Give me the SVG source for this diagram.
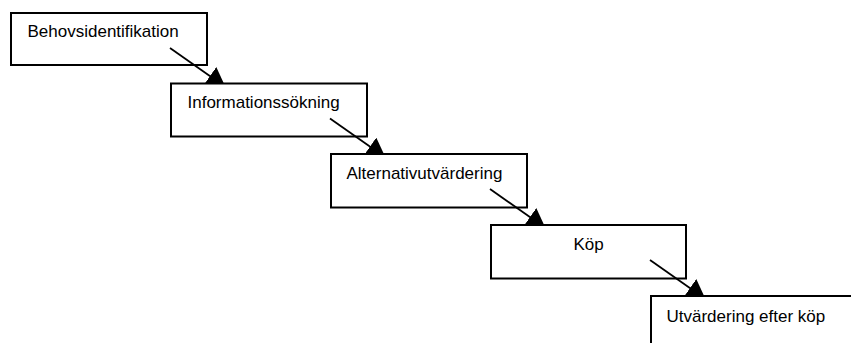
<svg xmlns="http://www.w3.org/2000/svg" width="851" height="343" viewBox="0 0 851 343">
  <defs>
    <marker id="ah" markerUnits="userSpaceOnUse" viewBox="0 0 19 22" refX="19" refY="11" markerWidth="19" markerHeight="22" orient="auto">
      <path d="M0,0 L19,11 L0,22 z" fill="#000"/>
    </marker>
    <clipPath id="c1"><rect x="0" y="0" width="851" height="83.5"/></clipPath>
    <clipPath id="c2"><rect x="0" y="0" width="851" height="154"/></clipPath>
    <clipPath id="c3"><rect x="0" y="0" width="851" height="225"/></clipPath>
    <clipPath id="c4"><rect x="0" y="0" width="851" height="296"/></clipPath>
    <style>
      .box { fill: #fff; stroke: #000; stroke-width: 2; }
      .lbl { font-family: "Liberation Sans", Arial, sans-serif; font-size: 17px; fill: #000; }
      .conn { stroke: #000; stroke-width: 1.8; fill: none; marker-end: url(#ah); }
    </style>
  </defs>
  <rect width="851" height="343" fill="#fff"/>
  <g id="node1">
    <rect class="box" x="11" y="13" width="196" height="52"/>
    <text class="lbl" x="27.5" y="37">Behovsidentifikation</text>
  </g>
  <g id="node2">
    <rect class="box" x="171" y="83.5" width="196" height="53"/>
    <text class="lbl" x="187.5" y="107.5">Informationssökning</text>
  </g>
  <g id="node3">
    <rect class="box" x="331" y="154" width="196" height="53.5"/>
    <text class="lbl" x="346.5" y="178.5">Alternativutvärdering</text>
  </g>
  <g id="node4">
    <rect class="box" x="491" y="225" width="195" height="53.5"/>
    <text class="lbl" x="588.5" y="250" text-anchor="middle">Köp</text>
  </g>
  <g id="node5">
    <rect class="box" x="651" y="296" width="220" height="60"/>
    <text class="lbl" x="666.5" y="322">Utvärdering efter köp</text>
  </g>
  <g id="connectors">
    <g clip-path="url(#c1)"><line class="conn" x1="170" y1="48" x2="225.5" y2="87"/></g>
    <g clip-path="url(#c2)"><line class="conn" x1="330" y1="118.5" x2="385.5" y2="157.5"/></g>
    <g clip-path="url(#c3)"><line class="conn" x1="490" y1="189" x2="545.5" y2="228"/></g>
    <g clip-path="url(#c4)"><line class="conn" x1="650" y1="260" x2="705.5" y2="299"/></g>
  </g>
</svg>
